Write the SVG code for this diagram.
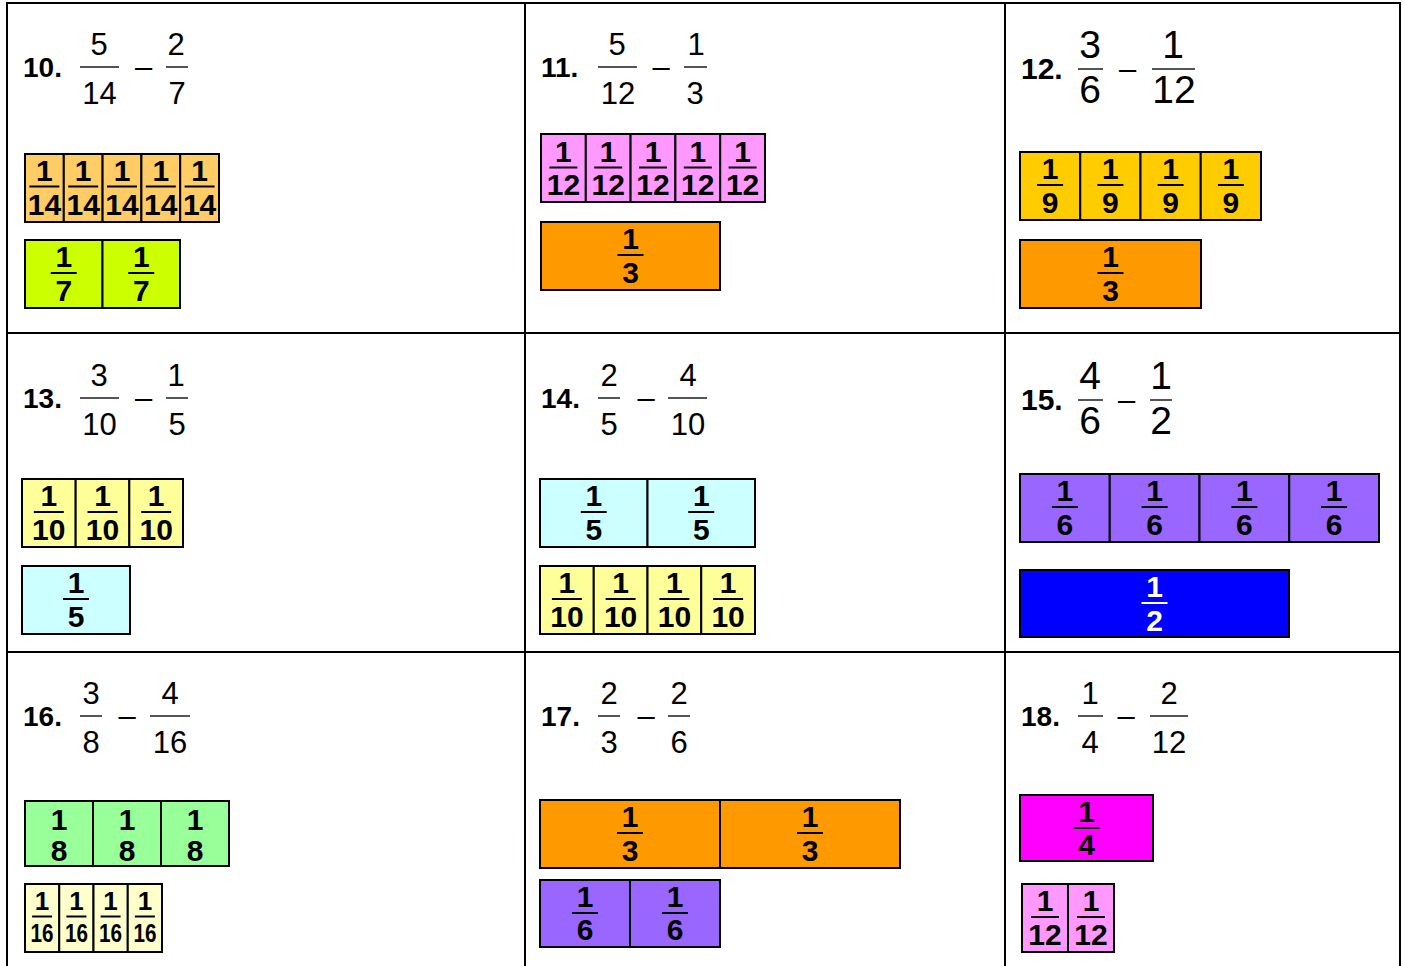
<svg xmlns="http://www.w3.org/2000/svg" width="1405" height="966" viewBox="0 0 1405 966">
<style>
text{font-family:"Liberation Sans",Arial,sans-serif;}
.lbl{font-size:28px;font-weight:bold;fill:#000;}
.lbl2{font-size:30px;font-weight:bold;fill:#000;}
.hn{font-size:31px;text-anchor:middle;fill:#000;}
.hb{font-size:39px;text-anchor:middle;fill:#000;}
.mn{font-size:31px;text-anchor:middle;fill:#000;}
.hl{stroke:#555;stroke-width:2;}
.p{stroke:#000;stroke-width:2;}
.bt{font-size:30px;font-weight:bold;text-anchor:middle;fill:#000;}
.bs{font-size:26px;font-weight:bold;text-anchor:middle;fill:#000;}
.bw{font-size:30px;font-weight:bold;text-anchor:middle;fill:#fff;}
.bl{stroke:#000;stroke-width:2;}
.blw{stroke:#fff;stroke-width:2;}
.grid{stroke:#000;stroke-width:2;fill:none;}
</style>
<g id="grid">
<rect class="grid" x="7" y="3" width="1393" height="975"/>
<line class="grid" x1="525" y1="3" x2="525" y2="966"/>
<line class="grid" x1="1005" y1="3" x2="1005" y2="966"/>
<line class="grid" x1="7" y1="333" x2="1400" y2="333"/>
<line class="grid" x1="7" y1="652" x2="1400" y2="652"/>
</g>

<g id="cell10">
<text class="lbl" x="23" y="77">10.</text>
<text class="hn" x="99" y="55">5</text>
<line class="hl" x1="80" y1="67" x2="119" y2="67"/>
<text class="hn" x="99.5" y="104">14</text>
<text class="mn" x="143.5" y="77">–</text>
<text class="hn" x="176" y="55">2</text>
<line class="hl" x1="166" y1="67" x2="188" y2="67"/>
<text class="hn" x="177" y="104">7</text>
<g fill="#FFCC66">
<rect class="p" x="25" y="154" width="38.8" height="68"/>
<rect class="p" x="63.8" y="154" width="38.8" height="68"/>
<rect class="p" x="102.6" y="154" width="38.8" height="68"/>
<rect class="p" x="141.4" y="154" width="38.8" height="68"/>
<rect class="p" x="180.2" y="154" width="38.8" height="68"/>
</g>
<text class="bt" x="44.4" y="181">1</text><line class="bl" x1="29.4" y1="186.5" x2="59.4" y2="186.5"/><text class="bt" x="44.4" y="215">14</text>
<text class="bt" x="83.2" y="181">1</text><line class="bl" x1="68.2" y1="186.5" x2="98.2" y2="186.5"/><text class="bt" x="83.2" y="215">14</text>
<text class="bt" x="122" y="181">1</text><line class="bl" x1="107" y1="186.5" x2="137" y2="186.5"/><text class="bt" x="122" y="215">14</text>
<text class="bt" x="160.8" y="181">1</text><line class="bl" x1="145.8" y1="186.5" x2="175.8" y2="186.5"/><text class="bt" x="160.8" y="215">14</text>
<text class="bt" x="199.6" y="181">1</text><line class="bl" x1="184.6" y1="186.5" x2="214.6" y2="186.5"/><text class="bt" x="199.6" y="215">14</text>
<g fill="#CCFF00">
<rect class="p" x="25" y="240" width="77.5" height="68"/>
<rect class="p" x="102.5" y="240" width="77.5" height="68"/>
</g>
<text class="bt" x="63.75" y="267">1</text><line class="bl" x1="50.75" y1="273" x2="76.75" y2="273"/><text class="bt" x="63.75" y="301">7</text>
<text class="bt" x="141.25" y="267">1</text><line class="bl" x1="128.25" y1="273" x2="154.25" y2="273"/><text class="bt" x="141.25" y="301">7</text>
</g>

<g id="cell11">
<text class="lbl" x="541" y="77">11.</text>
<text class="hn" x="617" y="55">5</text>
<line class="hl" x1="598" y1="67" x2="637" y2="67"/>
<text class="hn" x="618" y="104">12</text>
<text class="mn" x="661" y="77">–</text>
<text class="hn" x="696" y="55">1</text>
<line class="hl" x1="684" y1="67" x2="707" y2="67"/>
<text class="hn" x="695" y="104">3</text>
<g fill="#FF99FF">
<rect class="p" x="541" y="134" width="44.8" height="68"/>
<rect class="p" x="585.8" y="134" width="44.8" height="68"/>
<rect class="p" x="630.6" y="134" width="44.8" height="68"/>
<rect class="p" x="675.4" y="134" width="44.8" height="68"/>
<rect class="p" x="720.2" y="134" width="44.8" height="68"/>
</g>
<text class="bt" x="563.4" y="162">1</text><line class="bl" x1="549.4" y1="167.5" x2="577.4" y2="167.5"/><text class="bt" x="563.4" y="195">12</text>
<text class="bt" x="608.2" y="162">1</text><line class="bl" x1="594.2" y1="167.5" x2="622.2" y2="167.5"/><text class="bt" x="608.2" y="195">12</text>
<text class="bt" x="653" y="162">1</text><line class="bl" x1="639" y1="167.5" x2="667" y2="167.5"/><text class="bt" x="653" y="195">12</text>
<text class="bt" x="697.8" y="162">1</text><line class="bl" x1="683.8" y1="167.5" x2="711.8" y2="167.5"/><text class="bt" x="697.8" y="195">12</text>
<text class="bt" x="742.6" y="162">1</text><line class="bl" x1="728.6" y1="167.5" x2="756.6" y2="167.5"/><text class="bt" x="742.6" y="195">12</text>
<rect class="p" x="541" y="222" width="179" height="68" fill="#FF9900"/>
<text class="bt" x="630.5" y="249">1</text><line class="bl" x1="617.5" y1="255" x2="643.5" y2="255"/><text class="bt" x="630.5" y="283">3</text>
</g>

<g id="cell12">
<text class="lbl2" x="1021" y="79">12.</text>
<text class="hb" x="1090" y="58">3</text>
<line class="hl" x1="1078" y1="69" x2="1103" y2="69"/>
<text class="hb" x="1090" y="103">6</text>
<text class="mn" x="1127.5" y="79">–</text>
<text class="hb" x="1173" y="58">1</text>
<line class="hl" x1="1152" y1="69" x2="1195" y2="69"/>
<text class="hb" x="1174" y="103">12</text>
<g fill="#FFCC00">
<rect class="p" x="1020" y="152" width="60.25" height="68"/>
<rect class="p" x="1080.25" y="152" width="60.25" height="68"/>
<rect class="p" x="1140.5" y="152" width="60.25" height="68"/>
<rect class="p" x="1200.75" y="152" width="60.25" height="68"/>
</g>
<text class="bt" x="1050.1" y="179">1</text><line class="bl" x1="1037.1" y1="185" x2="1063.1" y2="185"/><text class="bt" x="1050.1" y="213">9</text>
<text class="bt" x="1110.4" y="179">1</text><line class="bl" x1="1097.4" y1="185" x2="1123.4" y2="185"/><text class="bt" x="1110.4" y="213">9</text>
<text class="bt" x="1170.6" y="179">1</text><line class="bl" x1="1157.6" y1="185" x2="1183.6" y2="185"/><text class="bt" x="1170.6" y="213">9</text>
<text class="bt" x="1230.9" y="179">1</text><line class="bl" x1="1217.9" y1="185" x2="1243.9" y2="185"/><text class="bt" x="1230.9" y="213">9</text>
<rect class="p" x="1020" y="240" width="181" height="68" fill="#FF9900"/>
<text class="bt" x="1110.5" y="267">1</text><line class="bl" x1="1097.5" y1="273" x2="1123.5" y2="273"/><text class="bt" x="1110.5" y="301">3</text>
</g>

<g id="cell13">
<text class="lbl" x="23" y="408">13.</text>
<text class="hn" x="99" y="386">3</text>
<line class="hl" x1="80" y1="398" x2="119" y2="398"/>
<text class="hn" x="99.5" y="435">10</text>
<text class="mn" x="143.5" y="408">–</text>
<text class="hn" x="176" y="386">1</text>
<line class="hl" x1="166" y1="398" x2="188" y2="398"/>
<text class="hn" x="177" y="435">5</text>
<g fill="#FFFF99">
<rect class="p" x="22" y="479" width="53.67" height="68"/>
<rect class="p" x="75.67" y="479" width="53.67" height="68"/>
<rect class="p" x="129.33" y="479" width="53.67" height="68"/>
</g>
<text class="bt" x="48.8" y="506">1</text><line class="bl" x1="33.8" y1="512" x2="63.8" y2="512"/><text class="bt" x="48.8" y="540">10</text>
<text class="bt" x="102.5" y="506">1</text><line class="bl" x1="87.5" y1="512" x2="117.5" y2="512"/><text class="bt" x="102.5" y="540">10</text>
<text class="bt" x="156.2" y="506">1</text><line class="bl" x1="141.2" y1="512" x2="171.2" y2="512"/><text class="bt" x="156.2" y="540">10</text>
<rect class="p" x="22" y="566" width="108" height="68" fill="#CCFFFF"/>
<text class="bt" x="76" y="593">1</text><line class="bl" x1="63" y1="599" x2="89" y2="599"/><text class="bt" x="76" y="627">5</text>
</g>

<g id="cell14">
<text class="lbl" x="541" y="408">14.</text>
<text class="hn" x="609" y="386">2</text>
<line class="hl" x1="598" y1="398" x2="620" y2="398"/>
<text class="hn" x="609" y="435">5</text>
<text class="mn" x="646" y="408">–</text>
<text class="hn" x="688" y="386">4</text>
<line class="hl" x1="668" y1="398" x2="707" y2="398"/>
<text class="hn" x="688" y="435">10</text>
<g fill="#CCFFFF">
<rect class="p" x="540" y="479" width="107.5" height="68"/>
<rect class="p" x="647.5" y="479" width="107.5" height="68"/>
</g>
<text class="bt" x="593.75" y="506">1</text><line class="bl" x1="580.75" y1="512" x2="606.75" y2="512"/><text class="bt" x="593.75" y="540">5</text>
<text class="bt" x="701.25" y="506">1</text><line class="bl" x1="688.25" y1="512" x2="714.25" y2="512"/><text class="bt" x="701.25" y="540">5</text>
<g fill="#FFFF99">
<rect class="p" x="540" y="566" width="53.75" height="68"/>
<rect class="p" x="593.75" y="566" width="53.75" height="68"/>
<rect class="p" x="647.5" y="566" width="53.75" height="68"/>
<rect class="p" x="701.25" y="566" width="53.75" height="68"/>
</g>
<text class="bt" x="566.9" y="593">1</text><line class="bl" x1="551.9" y1="599" x2="581.9" y2="599"/><text class="bt" x="566.9" y="627">10</text>
<text class="bt" x="620.6" y="593">1</text><line class="bl" x1="605.6" y1="599" x2="635.6" y2="599"/><text class="bt" x="620.6" y="627">10</text>
<text class="bt" x="674.4" y="593">1</text><line class="bl" x1="659.4" y1="599" x2="689.4" y2="599"/><text class="bt" x="674.4" y="627">10</text>
<text class="bt" x="728.1" y="593">1</text><line class="bl" x1="713.1" y1="599" x2="743.1" y2="599"/><text class="bt" x="728.1" y="627">10</text>
</g>

<g id="cell15">
<text class="lbl2" x="1021" y="410">15.</text>
<text class="hb" x="1090" y="389">4</text>
<line class="hl" x1="1078" y1="400" x2="1103" y2="400"/>
<text class="hb" x="1090" y="434">6</text>
<text class="mn" x="1126.5" y="410">–</text>
<text class="hb" x="1161" y="389">1</text>
<line class="hl" x1="1150" y1="400" x2="1172" y2="400"/>
<text class="hb" x="1161" y="434">2</text>
<g fill="#9966FF">
<rect class="p" x="1020" y="474" width="89.75" height="68"/>
<rect class="p" x="1109.75" y="474" width="89.75" height="68"/>
<rect class="p" x="1199.5" y="474" width="89.75" height="68"/>
<rect class="p" x="1289.25" y="474" width="89.75" height="68"/>
</g>
<text class="bt" x="1064.9" y="501">1</text><line class="bl" x1="1051.9" y1="507" x2="1077.9" y2="507"/><text class="bt" x="1064.9" y="535">6</text>
<text class="bt" x="1154.6" y="501">1</text><line class="bl" x1="1141.6" y1="507" x2="1167.6" y2="507"/><text class="bt" x="1154.6" y="535">6</text>
<text class="bt" x="1244.4" y="501">1</text><line class="bl" x1="1231.4" y1="507" x2="1257.4" y2="507"/><text class="bt" x="1244.4" y="535">6</text>
<text class="bt" x="1334.1" y="501">1</text><line class="bl" x1="1321.1" y1="507" x2="1347.1" y2="507"/><text class="bt" x="1334.1" y="535">6</text>
<rect class="p" x="1020" y="570" width="269" height="67" fill="#0000FF"/>
<text class="bw" x="1154.5" y="597">1</text><line class="blw" x1="1141.5" y1="603" x2="1167.5" y2="603"/><text class="bw" x="1154.5" y="631">2</text>
</g>

<g id="cell16">
<text class="lbl" x="23" y="726">16.</text>
<text class="hn" x="91" y="704">3</text>
<line class="hl" x1="80" y1="716" x2="102" y2="716"/>
<text class="hn" x="91" y="753">8</text>
<text class="mn" x="127" y="726">–</text>
<text class="hn" x="170" y="704">4</text>
<line class="hl" x1="150" y1="716" x2="190" y2="716"/>
<text class="hn" x="170" y="753">16</text>
<g fill="#99FF99">
<rect class="p" x="25" y="801" width="68" height="65"/>
<rect class="p" x="93" y="801" width="68" height="65"/>
<rect class="p" x="161" y="801" width="68" height="65"/>
</g>
<text class="bt" x="59" y="830">1</text><text class="bt" x="59" y="861">8</text>
<text class="bt" x="127" y="830">1</text><text class="bt" x="127" y="861">8</text>
<text class="bt" x="195" y="830">1</text><text class="bt" x="195" y="861">8</text>
<g fill="#FFFFCC">
<rect class="p" x="25" y="884" width="34.25" height="68"/>
<rect class="p" x="59.25" y="884" width="34.25" height="68"/>
<rect class="p" x="93.5" y="884" width="34.25" height="68"/>
<rect class="p" x="127.75" y="884" width="34.25" height="68"/>
</g>
<text class="bs" x="42.1" y="910">1</text><line class="bl" x1="32.1" y1="916.5" x2="52.1" y2="916.5"/><text class="bs" x="42.1" y="942" textLength="23" lengthAdjust="spacingAndGlyphs">16</text>
<text class="bs" x="76.4" y="910">1</text><line class="bl" x1="66.4" y1="916.5" x2="86.4" y2="916.5"/><text class="bs" x="76.4" y="942" textLength="23" lengthAdjust="spacingAndGlyphs">16</text>
<text class="bs" x="110.6" y="910">1</text><line class="bl" x1="100.6" y1="916.5" x2="120.6" y2="916.5"/><text class="bs" x="110.6" y="942" textLength="23" lengthAdjust="spacingAndGlyphs">16</text>
<text class="bs" x="144.9" y="910">1</text><line class="bl" x1="134.9" y1="916.5" x2="154.9" y2="916.5"/><text class="bs" x="144.9" y="942" textLength="23" lengthAdjust="spacingAndGlyphs">16</text>
</g>

<g id="cell17">
<text class="lbl" x="541" y="726">17.</text>
<text class="hn" x="609" y="704">2</text>
<line class="hl" x1="598" y1="716" x2="620" y2="716"/>
<text class="hn" x="609" y="753">3</text>
<text class="mn" x="646" y="726">–</text>
<text class="hn" x="679" y="704">2</text>
<line class="hl" x1="668" y1="716" x2="690" y2="716"/>
<text class="hn" x="679" y="753">6</text>
<g fill="#FF9900">
<rect class="p" x="540" y="800" width="180" height="68"/>
<rect class="p" x="720" y="800" width="180" height="68"/>
</g>
<text class="bt" x="630" y="827">1</text><line class="bl" x1="617" y1="833" x2="643" y2="833"/><text class="bt" x="630" y="861">3</text>
<text class="bt" x="810" y="827">1</text><line class="bl" x1="797" y1="833" x2="823" y2="833"/><text class="bt" x="810" y="861">3</text>
<g fill="#9966FF">
<rect class="p" x="540" y="880" width="90" height="67"/>
<rect class="p" x="630" y="880" width="90" height="67"/>
</g>
<text class="bt" x="585" y="907">1</text><line class="bl" x1="572" y1="913" x2="598" y2="913"/><text class="bt" x="585" y="940">6</text>
<text class="bt" x="675" y="907">1</text><line class="bl" x1="662" y1="913" x2="688" y2="913"/><text class="bt" x="675" y="940">6</text>
</g>

<g id="cell18">
<text class="lbl" x="1021" y="726">18.</text>
<text class="hn" x="1090" y="704">1</text>
<line class="hl" x1="1078" y1="716" x2="1103" y2="716"/>
<text class="hn" x="1090" y="753">4</text>
<text class="mn" x="1126" y="726">–</text>
<text class="hn" x="1169" y="704">2</text>
<line class="hl" x1="1150" y1="716" x2="1188" y2="716"/>
<text class="hn" x="1169" y="753">12</text>
<rect class="p" x="1020" y="795" width="133" height="66" fill="#FF00FF"/>
<text class="bt" x="1086.5" y="822">1</text><line class="bl" x1="1073.5" y1="828" x2="1099.5" y2="828"/><text class="bt" x="1086.5" y="855">4</text>
<g fill="#FF99FF">
<rect class="p" x="1022" y="884" width="46" height="68"/>
<rect class="p" x="1068" y="884" width="46" height="68"/>
</g>
<text class="bt" x="1045" y="911">1</text><line class="bl" x1="1031" y1="917" x2="1059" y2="917"/><text class="bt" x="1045" y="945">12</text>
<text class="bt" x="1091" y="911">1</text><line class="bl" x1="1077" y1="917" x2="1105" y2="917"/><text class="bt" x="1091" y="945">12</text>
</g>
</svg>
